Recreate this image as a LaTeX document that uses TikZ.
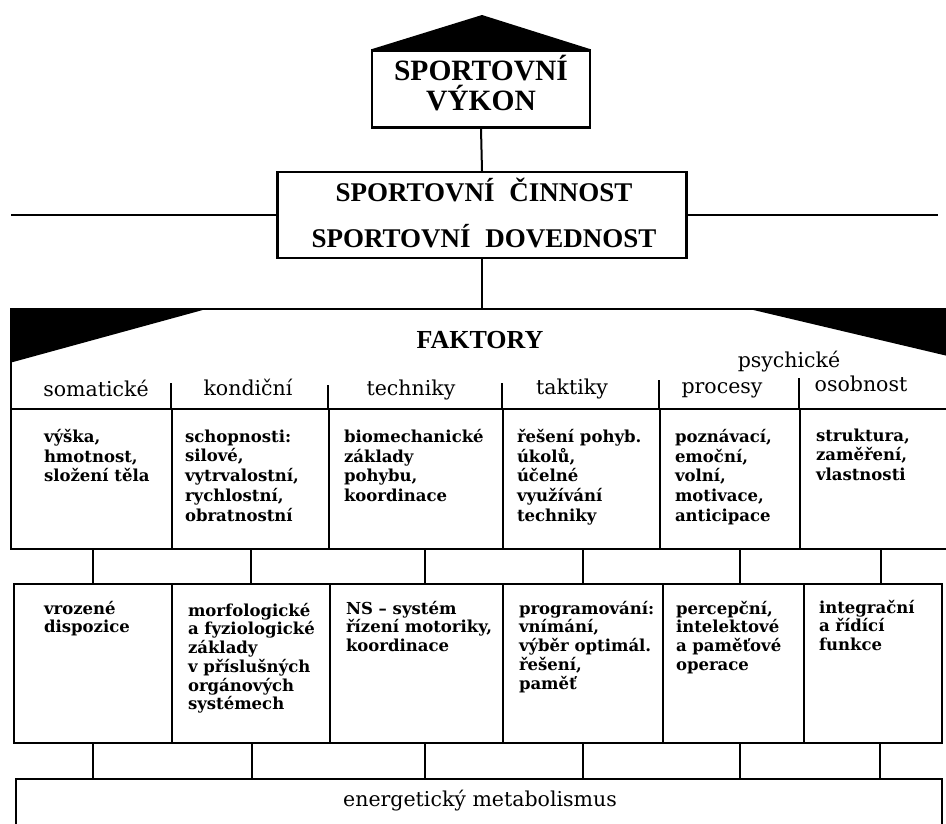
\documentclass[tikz,border=0pt]{standalone}
\usepackage{fontspec}
\setmainfont{Liberation Serif}
\newfontfamily\dvs{DejaVu Serif}
\newcommand{\fl}{\rule{0pt}{13pt}}
\begin{document}
\begin{tikzpicture}[x=1pt,y=-1pt,line width=2pt,
  box/.style={draw,line width=2.2pt,inner sep=0pt,minimum width=#1},
  cell/.style={draw,line width=2pt,inner sep=0pt,anchor=north west},
  ctext/.style={anchor=north west,align=left,inner sep=0pt,yshift=13pt,font=\dvs\bfseries\fontsize{16.5}{#1}\selectfont},
  hlabel/.style={anchor=base,inner sep=0pt,font=\dvs\fontsize{20.5}{24}\selectfont},
  ttl/.style={anchor=base,inner sep=0pt,font=\bfseries\fontsize{#1}{#1}\selectfont}]
\useasboundingbox (0,0) rectangle (946,823);
\clip (0,0) rectangle (946,823);
\fill[white] (0,0) rectangle (946,823);

% top: sportovni vykon
\node[box=218pt,minimum height=77pt] (vykon) at (481,89) {};
\coordinate (apex) at (482,15);
\fill (vykon.north west) -- (apex) -- (vykon.north east) -- cycle;
\node[ttl=29.5] (t1) at (481,80) {SPORTOVNÍ};
\node[ttl=29.5] (t2) at (481,110) {VÝKON};

% cinnost / dovednost
\node[box=409pt,minimum height=86pt] (cin) at (482,215) {};
\node[ttl=27] (t3) at (484,201) {SPORTOVNÍ\hspace{0.55em}ČINNOST};
\node[ttl=27] (t4) at (484,247) {SPORTOVNÍ\hspace{0.55em}DOVEDNOST};
\coordinate (lend) at (11,215);
\coordinate (rend) at (938,215);
\draw (vykon.south) -- (cin.north);
\draw (cin.west) -- (lend);
\draw (cin.east) -- (rend);

% faktory panel
\node[cell,minimum width=942pt,minimum height=100pt] (hdr) at (10,308) {};
\draw (cin.south) -- (cin.south |- hdr.north);
\fill (hdr.north west) -- ++(200,0) -- (13,362) -- (10,362) -- cycle;
\fill (745,308) -- (952,308) -- (952,357) -- cycle;
\node[ttl=26] (fak) at (480,348) {FAKTORY};
\node[hlabel] (psy) at (789,367) {psychické};
\node[hlabel] (h1) at (96,396) {somatické};
\node[hlabel] (h2) at (248,395) {kondiční};
\node[hlabel] (h3) at (411,395) {techniky};
\node[hlabel] (h4) at (572,394) {taktiky};
\node[hlabel] (h5) at (722,393) {procesy};
\node[hlabel] (h6) at (861,391) {osobnost};
\draw (171,383) -- (171,408);
\draw (328,385) -- (328,408);
\draw (502,383) -- (502,408);
\draw (659,380) -- (659,408);
\draw (799,378) -- (799,408);

% row 1
\node[cell,minimum width=161pt,minimum height=140pt] (a1) at (10,408) {};
\node[cell,minimum width=157pt,minimum height=140pt] (a2) at (171,408) {};
\node[cell,minimum width=174pt,minimum height=140pt] (a3) at (328,408) {};
\node[cell,minimum width=157pt,minimum height=140pt] (a4) at (502,408) {};
\node[cell,minimum width=140pt,minimum height=140pt] (a5) at (659,408) {};
\node[cell,minimum width=153pt,minimum height=140pt] (a6) at (799,408) {};
\node[ctext=19.8] (x1) at (43,441) {\fl výška,\\hmotnost,\\složení těla};
\node[ctext=19.8] (x2) at (184,441) {\fl schopnosti:\\silové,\\vytrvalostní,\\rychlostní,\\obratnostní};
\node[ctext=19.8] (x3) at (343,441) {\fl biomechanické\\základy\\pohybu,\\koordinace};
\node[ctext=19.8] (x4) at (516,441) {\fl řešení pohyb.\\úkolů,\\účelné\\využívání\\techniky};
\node[ctext=19.8] (x5) at (674,441) {\fl poznávací,\\emoční,\\volní,\\motivace,\\anticipace};
\node[ctext=19.8] (x6) at (815,440) {\fl struktura,\\zaměření,\\vlastnosti};

% row 2
\node[cell,minimum width=158pt,minimum height=159pt] (b1) at (13,583) {};
\node[cell,minimum width=158pt,minimum height=159pt] (b2) at (171,583) {};
\node[cell,minimum width=173pt,minimum height=159pt] (b3) at (329,583) {};
\node[cell,minimum width=160pt,minimum height=159pt] (b4) at (502,583) {};
\node[cell,minimum width=141pt,minimum height=159pt] (b5) at (662,583) {};
\node[cell,minimum width=138pt,minimum height=159pt] (b6) at (803,583) {};
\node[ctext=18.7] (y1) at (43,613) {\fl vrozené\\dispozice};
\node[ctext=18.7] (y2) at (187,615) {\fl morfologické\\a fyziologické\\základy\\v příslušných\\orgánových\\systémech};
\node[ctext=18.7] (y3) at (345,613) {\fl NS – systém\\řízení motoriky,\\koordinace};
\node[ctext=18.7] (y4) at (518,613) {\fl programování:\\vnímání,\\výběr optimál.\\řešení,\\paměť};
\node[ctext=18.7] (y5) at (675,613) {\fl percepční,\\intelektové\\a paměťové\\operace};
\node[ctext=18.7] (y6) at (818,612) {\fl integrační\\a řídící\\funkce};

% connectors row1 -> row2
\draw ([xshift=1.5pt]a1.south) -- ([xshift=1.5pt]a1.south |- b1.north);
\draw (a2.south) -- (a2.south |- b2.north);
\draw ([xshift=9pt]a3.south) -- ([xshift=9pt]a3.south |- b3.north);
\draw ([xshift=1.5pt]a4.south) -- ([xshift=1.5pt]a4.south |- b4.north);
\draw ([xshift=10pt]a5.south) -- ([xshift=10pt]a5.south |- b5.north);
\draw ([xshift=4.5pt]a6.south) -- ([xshift=4.5pt]a6.south |- b6.north);

% bottom box
\node[cell,minimum width=926pt,minimum height=70pt] (en) at (15,778) {};
\node[hlabel] (ent) at (480,806) {energetický metabolismus};
\draw (b1.south) -- (b1.south |- en.north);
\draw ([xshift=1pt]b2.south) -- ([xshift=1pt]b2.south |- en.north);
\draw ([xshift=8.5pt]b3.south) -- ([xshift=8.5pt]b3.south |- en.north);
\draw (b4.south) -- (b4.south |- en.north);
\draw ([xshift=6.5pt]b5.south) -- ([xshift=6.5pt]b5.south |- en.north);
\draw ([xshift=7pt]b6.south) -- ([xshift=7pt]b6.south |- en.north);
\end{tikzpicture}
\end{document}
